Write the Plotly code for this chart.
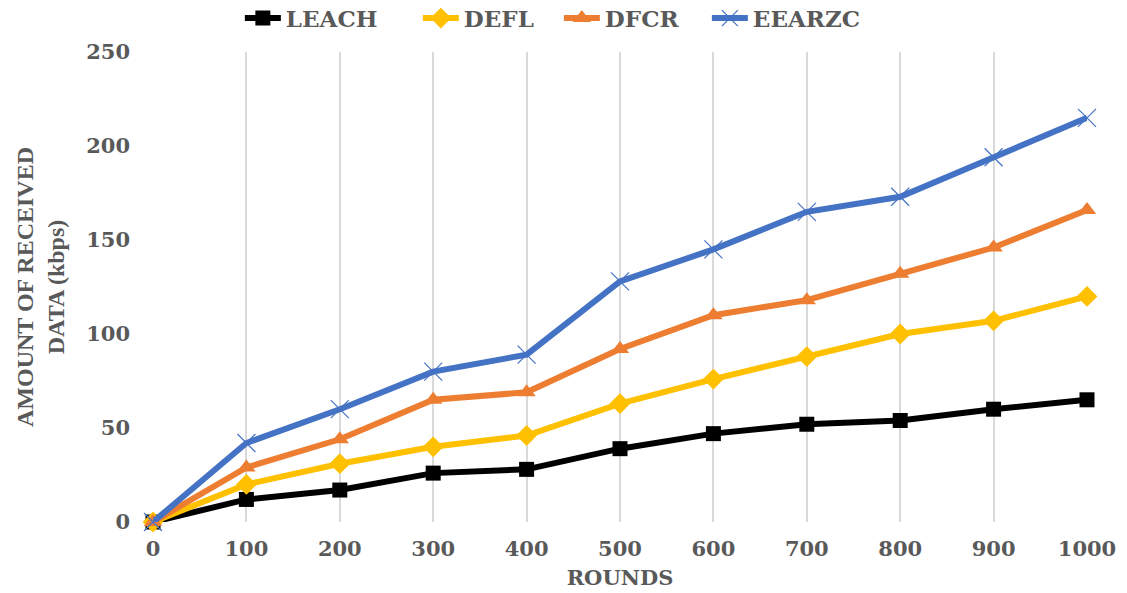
import plotly.graph_objects as go

rounds = [0, 100, 200, 300, 400, 500, 600, 700, 800, 900, 1000]
leach = [0, 12, 17, 26, 28, 39, 47, 52, 54, 60, 65]
defl = [0, 20, 31, 40, 46, 63, 76, 88, 100, 107, 120]
dfcr = [0, 29, 44, 65, 69, 92, 110, 118, 132, 146, 166]
eearzc = [0, 42, 60, 80, 89, 128, 145, 165, 173, 194, 215]

wide_serif = "DejaVu Serif, Liberation Serif, serif"
title_serif = "Liberation Serif, Times New Roman, serif"
text_grey = "#595959"

# name, values, colour, marker style, legend entry width (px)
series = [
    ("LEACH", leach, "#000000", dict(symbol="square", size=15), 127),
    ("DEFL", defl, "#FFC000", dict(symbol="diamond", size=16), 90),
    ("DFCR", dfcr, "#ED7D31", dict(symbol="triangle-up", size=16), 97),
    ("EEARZC", eearzc, "#4472C4", dict(symbol="x-thin-open", size=18,
                                      line=dict(width=1.2, color="#4472C4")), 130),
]

fig = go.Figure()
for name, values, color, marker, lw in series:
    m = dict(color=color, **marker)
    if "line" not in m:
        m["line"] = dict(width=0)
    fig.add_trace(go.Scatter(
        x=rounds, y=values, name=name, mode="lines+markers",
        line=dict(color=color, width=6),
        marker=m, cliponaxis=False, legendwidth=lw,
    ))

fig.update_layout(
    width=1127, height=593,
    margin=dict(l=153, r=40, t=52, b=71, autoexpand=False),
    plot_bgcolor="white", paper_bgcolor="white",
    font=dict(family=wide_serif, color=text_grey, size=20),
    legend=dict(orientation="h", x=0.093, xanchor="left", y=1.072, yanchor="middle",
                font=dict(family=wide_serif, size=23, color=text_grey, weight="bold"),
                itemwidth=36, tracegroupgap=0, bgcolor="rgba(0,0,0,0)"),
    xaxis=dict(
        range=[0, 1000], tickvals=rounds, ticktext=[str(r) for r in rounds],
        showgrid=True, gridcolor="#D9D9D9", gridwidth=1.5,
        zeroline=False, showline=False, ticks="", automargin=False,
        ticklabelstandoff=12,
        tickfont=dict(family=wide_serif, size=21, color=text_grey, weight="bold"),
        title=dict(text="ROUNDS", standoff=10,
                   font=dict(family=wide_serif, size=21, color=text_grey, weight="bold")),
    ),
    yaxis=dict(
        range=[0, 250], tickvals=[0, 50, 100, 150, 200, 250],
        showgrid=False, zeroline=False, showline=False, ticks="", automargin=False,
        ticklabelstandoff=22,
        tickfont=dict(family=wide_serif, size=21, color=text_grey, weight="bold"),
        title=dict(text="AMOUNT OF RECEIVED<br>DATA (kbps)", standoff=14,
                   font=dict(family=title_serif, size=24, color=text_grey, weight="bold")),
    ),
)

fig.write_html("out.html")
